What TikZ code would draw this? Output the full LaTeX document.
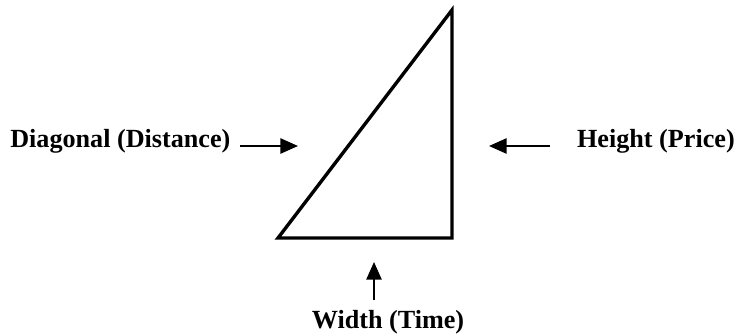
\documentclass[tikz,border=0pt]{standalone}
\usepackage{fontspec}
\setmainfont{Liberation Serif}
\usetikzlibrary{positioning, arrows.meta}

\begin{document}
\begin{tikzpicture}[
        x=0.025cm, y=-0.025cm,
        side/.style={line width=2.4pt, line join=miter},
        arrow/.style={-{Triangle[length=0.44cm, width=0.38cm]}, line width=1.4pt},
        label/.style={font=\bfseries\fontsize{18.6}{20}\selectfont, inner sep=0pt}
    ]
    \useasboundingbox (0,0) rectangle (738,335);

    % Triangle
    \coordinate (A) at (278,238);
    \coordinate (B) at (452,238);
    \coordinate (C) at (452,10);
    \draw[side] (A) -- (B) -- (C) -- cycle;

    % Labels
    \node[label, anchor=base west] (Diag) at (10,147) {Diagonal (Distance)};
    \node[label, anchor=base east] (Hgt)  at (735,147) {Height (Price)};
    \node[label, anchor=base]      (Wid)  at (388,328) {Width (Time)};

    % Arrow ends
    \coordinate (DiagTail) at (240,146);
    \coordinate (DiagTip)  at (298,146);
    \coordinate (HgtTail)  at (550,146);
    \coordinate (HgtTip)   at (489,146);
    \coordinate (WidTail)  at (374,300);
    \coordinate (WidTip)   at (374,262);

    % Arrows
    \draw[arrow] (DiagTail) -- (DiagTip);
    \draw[arrow] (HgtTail) -- (HgtTip);
    \draw[arrow] (WidTail) -- (WidTip);

\end{tikzpicture}
\end{document}
